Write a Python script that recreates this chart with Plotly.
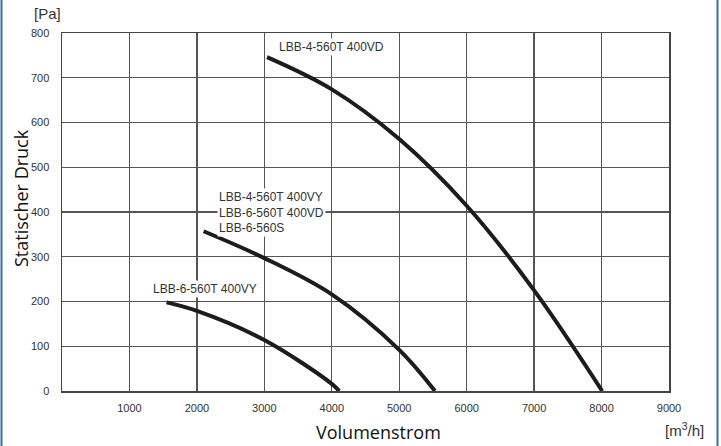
import plotly.graph_objects as go

# Kennlinien (Volumenstrom m3/h, statischer Druck Pa)
vd_x = [3040, 4000, 5000, 6000, 7000, 8010]
vd_y = [746, 674, 563, 414, 225, 0]

mid_x = [2100, 3000, 4000, 5000, 5530]
mid_y = [357, 297, 216, 92, 0]

low_x = [1550, 2000, 3000, 4000, 4110]
low_y = [198, 179, 114, 16, 0]

x_ticks = [1000, 2000, 3000, 4000, 5000, 6000, 7000, 8000, 9000]
y_ticks = [0, 100, 200, 300, 400, 500, 600, 700, 800]

label_vd = "LBB-4-560T 400VD"
label_mid = "LBB-4-560T 400VY<br>LBB-6-560T 400VD<br>LBB-6-560S"
label_low = "LBB-6-560T 400VY"

W, H = 721, 446
ML, MR, MT, MB = 62, 52, 33, 55
PW, PH = W - ML - MR, H - MT - MB

fig = go.Figure()
for xs, ys in [(vd_x, vd_y), (mid_x, mid_y), (low_x, low_y)]:
    fig.add_trace(go.Scatter(x=xs, y=ys, mode="lines",
                             line=dict(color="#1c1c1c", width=4, shape="spline", smoothing=1.0),
                             hoverinfo="skip", showlegend=False))

tickfont = dict(family="Liberation Sans, Arial", size=11, color="#333333")
axis_common = dict(showgrid=True, gridcolor="#555555", gridwidth=1.3,
                   zeroline=False, showline=True, linecolor="#444444", linewidth=1.5,
                   mirror=True, ticks="", tickfont=tickfont, fixedrange=True)

fig.update_layout(
    width=W, height=H,
    margin=dict(l=ML, r=MR, t=MT, b=MB, pad=0),
    paper_bgcolor="white", plot_bgcolor="white",
    xaxis=dict(range=[0, 9000], tickvals=x_ticks, ticktext=[str(v) for v in x_ticks],
               ticklabelstandoff=6, **axis_common),
    yaxis=dict(range=[0, 800], tickvals=y_ticks, ticktext=[str(v) for v in y_ticks],
               ticklabelstandoff=9, **axis_common),
    showlegend=False,
)

lab_font = dict(family="Liberation Sans, Arial", size=12, color="#333333")
fig.add_annotation(x=4000, y=769, text=label_vd, showarrow=False, font=lab_font,
                   xanchor="center", yanchor="middle", bgcolor="white", borderpad=1)
fig.add_annotation(x=2300, y=399, text=label_mid, showarrow=False, font=lab_font,
                   xanchor="left", yanchor="middle", align="left", bgcolor="white", borderpad=1)
fig.add_annotation(x=2120, y=228, text=label_low, showarrow=False, font=lab_font,
                   xanchor="center", yanchor="middle", bgcolor="white", borderpad=1)

def px(xp):
    return (xp - ML) / PW

def py(yp):
    return (H - MB - yp) / PH

# Einheiten
fig.add_annotation(xref="paper", yref="paper", x=px(47), y=py(14), text="[Pa]", showarrow=False,
                   font=dict(family="Liberation Sans, Arial", size=15, color="#333333"),
                   xanchor="center", yanchor="middle")
fig.add_annotation(xref="paper", yref="paper", x=px(684), y=py(429), text="[m<sup>3</sup>/h]",
                   showarrow=False,
                   font=dict(family="Liberation Sans, Arial", size=15, color="#333333"),
                   xanchor="center", yanchor="middle")

# Achsentitel
title_font = dict(family="Open Sans", size=18, color="#111111")
fig.add_annotation(xref="paper", yref="paper", x=px(378), y=py(432), text="Volumenstrom",
                   showarrow=False, font=title_font, xanchor="center", yanchor="middle")
fig.add_annotation(xref="paper", yref="paper", x=px(21), y=py(198), text="Statischer Druck",
                   showarrow=False, font=title_font, textangle=-90,
                   xanchor="center", yanchor="middle")

# blaue Rahmenlinien
for xp in (1.5, 717.5):
    fig.add_shape(type="line", xref="paper", yref="paper",
                  x0=px(xp), x1=px(xp), y0=py(H), y1=py(0),
                  line=dict(color="#3B6DA3", width=2))

fig.write_html("out.html",
               config={"displayModeBar": False, "staticPlot": True},
               post_script="document.body.style.margin='0';document.body.style.padding='0';"
                           "document.documentElement.style.overflow='hidden';")
